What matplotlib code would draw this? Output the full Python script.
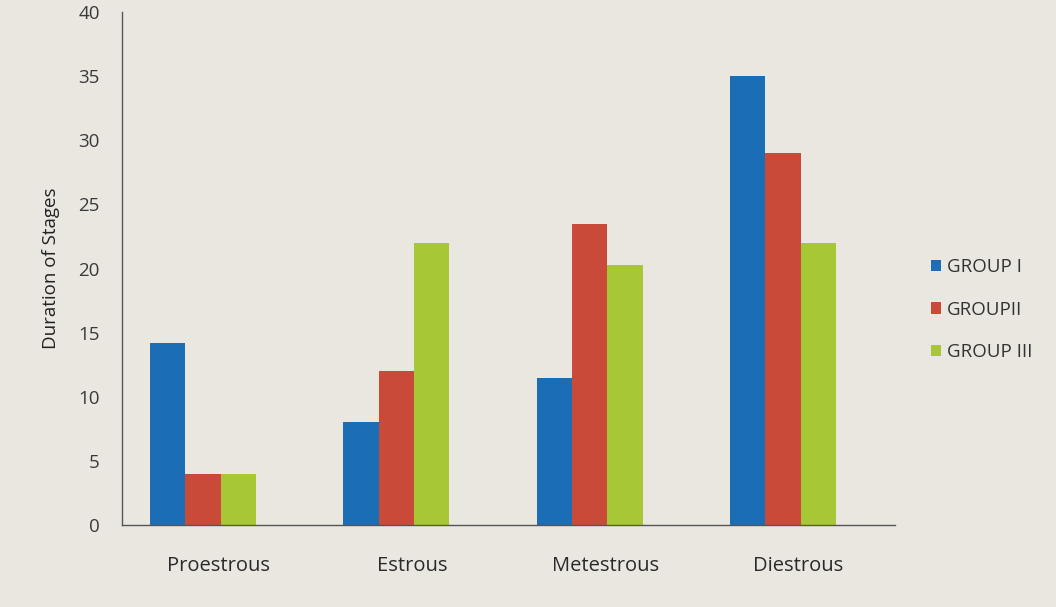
import matplotlib
matplotlib.use("Agg")
import matplotlib.pyplot as plt
import numpy as np

stages = ["Proestrous", "Estrous", "Metestrous", "Diestrous"]
groups = ["GROUP I", "GROUPII", "GROUP III"]
group_1 = [14.2, 8.0, 11.5, 35.0]
group_2 = [4.0, 12.0, 23.5, 29.0]
group_3 = [4.0, 22.0, 20.3, 22.0]

BG = "#e9e7e0"
COLORS = ["#1b6db5", "#c94a38", "#a8c736"]

plt.rcParams["font.family"] = ["Open Sans", "DejaVu Sans"]

fig = plt.figure(figsize=(10.56, 6.07), dpi=100, facecolor=BG)
ax = fig.add_axes([0.1155, 0.135, 0.732, 0.845], facecolor=BG)

# bar clusters sit a little left of the category labels
idx = np.arange(len(stages))
bar_x = idx + 0.42
width = 0.183
for i, (vals, label, color) in enumerate(zip([group_1, group_2, group_3], groups, COLORS)):
    ax.bar(bar_x + (i - 1) * width, vals, width=width, color=color, label=label)

ax.set_xlim(0, len(stages))
ax.set_ylim(0, 40)
ax.set_yticks(np.arange(0, 41, 5))
ax.set_xticks(idx + 0.5)
ax.set_xticklabels(stages, fontsize=14.5, color="#2a2a2a")
ax.tick_params(axis="y", length=0, pad=16, labelsize=13.5, labelcolor="#3a3a3a")
ax.tick_params(axis="x", length=0, pad=22)
ax.set_ylabel("Duration of Stages", fontsize=13.5, color="#222222", labelpad=13)

for side in ("top", "right"):
    ax.spines[side].set_visible(False)
for side in ("left", "bottom"):
    ax.spines[side].set_color("#555555")
    ax.spines[side].set_linewidth(1.0)

ax.legend(loc="center left", bbox_to_anchor=(1.025, 0.42), frameon=False,
          fontsize=13.5, handlelength=0.55, handleheight=0.55, handletextpad=0.3,
          labelspacing=1.3, labelcolor="#333333")

fig.savefig("out.png", dpi=100, facecolor=BG)
